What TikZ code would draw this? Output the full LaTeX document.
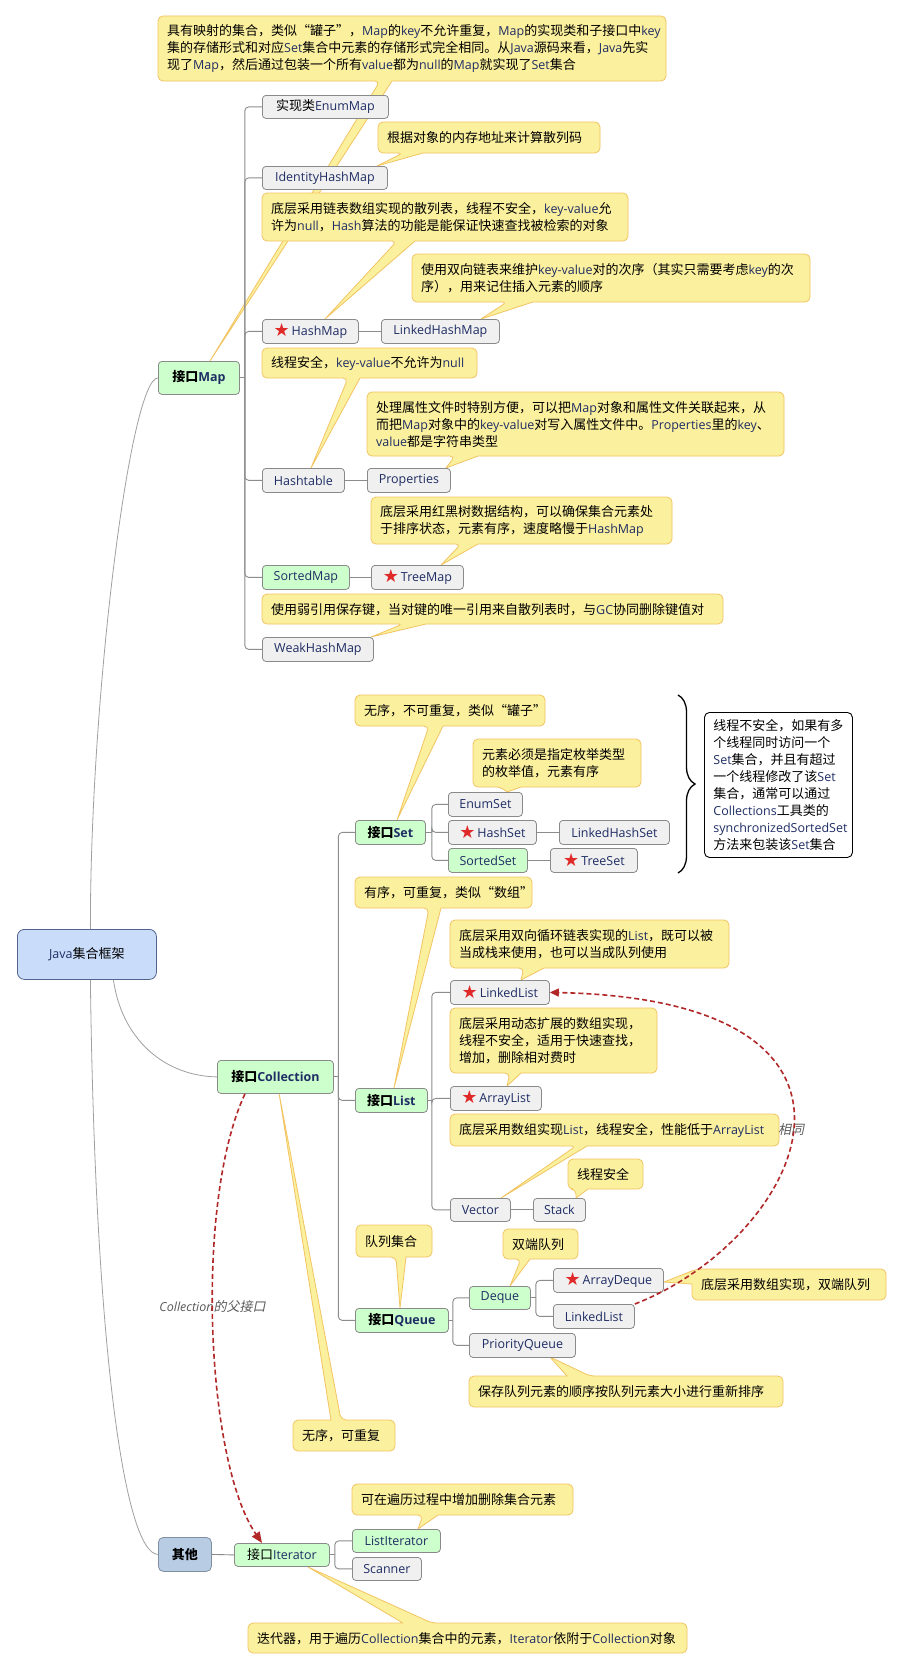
\documentclass[tikz,border=0pt]{standalone}
\usepackage{fontspec}
\setmainfont{Noto Sans CJK SC}
\newfontfamily\lat{Open Sans}[Scale=0.96]
\newfontfamily\dv{DejaVu Sans}
\newfontfamily\slcjk{Noto Sans CJK SC}[FakeSlant=0.2]
\usetikzlibrary{calc,arrows.meta,decorations.pathreplacing}
\definecolor{grayfill}{RGB}{240,240,240}
\definecolor{greenfill}{RGB}{204,255,204}
\definecolor{boxline}{RGB}{138,138,138}
\definecolor{rootfill}{RGB}{201,220,250}
\definecolor{rootline}{RGB}{80,100,140}
\definecolor{otherfill}{RGB}{184,204,228}
\definecolor{otherline}{RGB}{127,143,160}
\definecolor{notefill}{RGB}{251,240,157}
\definecolor{noteline}{RGB}{242,196,98}
\definecolor{connc}{RGB}{140,140,140}
\definecolor{rootc}{RGB}{160,160,160}
\definecolor{redd}{RGB}{178,40,40}
\definecolor{starred}{RGB}{224,42,42}
\definecolor{latin}{RGB}{31,45,100}
\definecolor{lblc}{RGB}{90,90,90}
\hyphenpenalty=10000
\exhyphenpenalty=10000
\setlength\parindent{0pt}
\newcommand\fs{\fontsize{13}{17}\selectfont}
\newcommand\EN[1]{{\lat\color{latin}#1}}
\newcommand\STAR{\raisebox{-1pt}{\dv\fontsize{18}{18}\selectfont\color{starred}★}\hspace{2pt}}
\newcommand\bx[7]{\node[#1, minimum width={(#5-#3)*1pt}, minimum height={(#6-#4)*1pt}] (#2) at (#3,#4) {#7};}
\newcommand\nt[7]{\pgfmathsetlengthmacro\tw{(#5-#3-18)*1pt}%
  \node[#1, text width=\tw, minimum height={(#6-#4)*1pt}] (#2) at (#3,#4) {#7};}
\newcommand\calB[8]{\path[callout] (#7,#8) -- (#6,#4) [rounded corners=5pt] -- (#3,#4) -- (#3,#2) -- (#1,#2) -- (#1,#4) -- (#5,#4) [sharp corners] -- cycle;}
\newcommand\calT[8]{\path[callout] (#7,#8) -- (#5,#2) [rounded corners=5pt] -- (#1,#2) -- (#1,#4) -- (#3,#4) -- (#3,#2) -- (#6,#2) [sharp corners] -- cycle;}
\begin{document}
\begin{tikzpicture}[x=1pt,y=-1pt,
  box/.style={draw=boxline, line width=0.8pt, rounded corners=3.5pt, inner sep=0pt, anchor=north west, font=\fs, text=black},
  gbox/.style={box, fill=grayfill},
  grbox/.style={box, fill=greenfill},
  rootbox/.style={box, fill=rootfill, draw=rootline, rounded corners=7pt},
  otherbox/.style={box, fill=otherfill, draw=otherline, rounded corners=5pt},
  note/.style={anchor=north west, inner xsep=9pt, inner ysep=0pt, align=left, font=\fs},
  setnote/.style={note, draw=black, line width=0.9pt, fill=white, rounded corners=5pt},
  callout/.style={fill=notefill, draw=noteline, line width=0.8pt, line join=round},
  conn/.style={draw=connc, line width=0.9pt, rounded corners=4pt},
  rootconn/.style={draw=rootc, line width=0.8pt},
  redarrow/.style={draw=redd, line width=1.6pt, dash pattern=on 5pt off 3pt},
  lbl/.style={font=\fs, text=lblc, inner sep=0pt}]
\useasboundingbox (0,0) rectangle (903,1670);
\fill[white] (0,0) rectangle (903,1670);

% callout shapes
\calB{158}{16}{666}{81}{380}{392}{210}{361}
\calB{378}{122}{600}{153}{403}{423}{377}{166}
\calB{262}{193}{628}{241}{397}{415}{325}{319}
\calB{412}{254}{810}{302}{507}{533}{481}{319}
\calB{262}{348}{477}{378}{348}{360}{311}{468}
\calB{367}{392}{784}{456}{455}{478}{446}{468}
\calB{371}{497}{672}{544}{461}{478}{441}{565}
\calB{262}{594}{723}{624}{403}{426}{371}{637}
\calB{355}{695}{545}{726}{429}{443}{397}{820}
\calB{473}{739}{641}{787}{501}{521}{507}{792}
\calB{355}{877}{532}{908}{429}{441}{394}{1088}
\calB{450}{920}{729}{968}{524}{544}{521}{980}
\calB{450}{1008}{657}{1073}{510}{521}{507}{1086}
\calB{450}{1114}{779}{1146}{576}{587}{501}{1198}
\calB{568}{1159}{643}{1189}{576}{588}{576}{1198}
\calB{356}{1225}{432}{1257}{396}{406}{400}{1308}
\calB{503}{1229}{578}{1259}{521}{530}{510}{1286}
\path[callout] (664,1282) -- (692,1284) [rounded corners=5pt] -- (692,1300) -- (886,1300) -- (886,1269) -- (697,1269) [sharp corners] -- cycle;
\calT{469}{1376}{783}{1407}{567}{590}{550}{1357}
\calT{293}{1420}{395}{1451}{331}{341}{279}{1093}
\calB{352}{1484}{573}{1515}{423}{438}{418}{1529}
\calT{248}{1623}{687}{1653}{403}{432}{308}{1567}

% note texts
\nt{note}{n1}{158}{16}{666}{81}{具有映射的集合，类似“罐子”，\EN{Map}的\EN{key}不允许重复，\EN{Map}的实现类和子接口中\EN{key}\\集的存储形式和对应\EN{Set}集合中元素的存储形式完全相同。从\EN{Java}源码来看，\EN{Java}先实\\现了\EN{Map}，然后通过包装一个所有\EN{value}都为\EN{null}的\EN{Map}就实现了\EN{Set}集合}
\nt{note}{n2}{378}{122}{600}{153}{根据对象的内存地址来计算散列码}
\nt{note}{n3}{262}{193}{628}{241}{底层采用链表数组实现的散列表，线程不安全，\EN{key-value}允\\许为\EN{null}，\EN{Hash}算法的功能是能保证快速查找被检索的对象}
\nt{note}{n4}{412}{254}{810}{302}{使用双向链表来维护\EN{key-value}对的次序（其实只需要考虑\EN{key}的次\\序），用来记住插入元素的顺序}
\nt{note}{n5}{262}{348}{477}{378}{线程安全，\EN{key-value}不允许为\EN{null}}
\nt{note}{n6}{367}{392}{784}{456}{处理属性文件时特别方便，可以把\EN{Map}对象和属性文件关联起来，从\\而把\EN{Map}对象中的\EN{key-value}对写入属性文件中。\EN{Properties}里的\EN{key}、\\\EN{value}都是字符串类型}
\nt{note}{n7}{371}{497}{672}{544}{底层采用红黑树数据结构，可以确保集合元素处\\于排序状态，元素有序，速度略慢于\EN{HashMap}}
\nt{note}{n8}{262}{594}{723}{624}{使用弱引用保存键，当对键的唯一引用来自散列表时，与\EN{GC}协同删除键值对}
\nt{note}{n9}{355}{695}{545}{726}{无序，不可重复，类似“罐子”}
\nt{note}{n10}{473}{739}{641}{787}{元素必须是指定枚举类型\\的枚举值，元素有序}
\nt{setnote}{n11}{704}{712}{852}{857}{线程不安全，如果有多\\个线程同时访问一个\\\EN{Set}集合，并且有超过\\一个线程修改了该\EN{Set}\\集合，通常可以通过\\\EN{Collections}工具类的\\\EN{synchronizedSortedSet}\\方法来包装该\EN{Set}集合}
\nt{note}{n12}{355}{877}{532}{908}{有序，可重复，类似“数组”}
\nt{note}{n13}{450}{920}{729}{968}{底层采用双向循环链表实现的\EN{List}，既可以被\\当成栈来使用，也可以当成队列使用}
\nt{note}{n14}{450}{1008}{657}{1073}{底层采用动态扩展的数组实现，\\线程不安全，适用于快速查找，\\增加，删除相对费时}
\nt{note}{n15}{450}{1114}{779}{1146}{底层采用数组实现\EN{List}，线程安全，性能低于\EN{ArrayList}}
\nt{note}{n16}{568}{1159}{643}{1189}{线程安全}
\nt{note}{n17}{356}{1225}{432}{1257}{队列集合}
\nt{note}{n18}{503}{1229}{578}{1259}{双端队列}
\nt{note}{n19}{692}{1269}{886}{1300}{底层采用数组实现，双端队列}
\nt{note}{n20}{469}{1376}{783}{1407}{保存队列元素的顺序按队列元素大小进行重新排序}
\nt{note}{n21}{293}{1420}{395}{1451}{无序，可重复}
\nt{note}{n22}{352}{1484}{573}{1515}{可在遍历过程中增加删除集合元素}
\nt{note}{n23}{248}{1623}{687}{1653}{迭代器，用于遍历\EN{Collection}集合中的元素，\EN{Iterator}依附于\EN{Collection}对象}

% brace
\draw[line width=1.3pt, decorate, decoration={brace, amplitude=17pt}] (678,695) -- (678,873);

% boxes
\bx{rootbox}{root}{17}{929}{156}{979}{\EN{Java}集合框架}
\bx{grbox,font=\fs\bfseries}{map}{158}{361}{239}{394}{接口\EN{Map}}
\bx{gbox}{enummap}{262}{95}{388}{118}{实现类\EN{EnumMap}}
\bx{gbox}{identity}{262}{166}{387}{189}{\EN{IdentityHashMap}}
\bx{gbox}{hashmap}{262}{319}{358}{343}{\STAR\EN{HashMap}}
\bx{gbox}{linkedhm}{381}{319}{499}{343}{\EN{LinkedHashMap}}
\bx{gbox}{hashtable}{262}{468}{344}{492}{\EN{Hashtable}}
\bx{gbox}{properties}{367}{468}{450}{492}{\EN{Properties}}
\bx{grbox}{sortedmap}{262}{565}{349}{589}{\EN{SortedMap}}
\bx{gbox}{treemap}{371}{565}{463}{589}{\STAR\EN{TreeMap}}
\bx{gbox}{weakhm}{262}{637}{373}{661}{\EN{WeakHashMap}}
\bx{grbox,font=\fs\bfseries}{coll}{217}{1060}{333}{1093}{接口\EN{Collection}}
\bx{grbox,font=\fs\bfseries}{set}{355}{820}{425}{844}{接口\EN{Set}}
\bx{gbox}{enumset}{448}{792}{522}{816}{\EN{EnumSet}}
\bx{gbox}{hashset}{448}{820}{536}{844}{\STAR\EN{HashSet}}
\bx{gbox}{linkedhs}{559}{820}{669}{844}{\EN{LinkedHashSet}}
\bx{grbox}{sortedset}{448}{848}{527}{872}{\EN{SortedSet}}
\bx{gbox}{treeset}{550}{848}{637}{872}{\STAR\EN{TreeSet}}
\bx{grbox,font=\fs\bfseries}{list}{355}{1088}{427}{1112}{接口\EN{List}}
\bx{gbox}{linkedlist}{450}{980}{549}{1004}{\STAR\EN{LinkedList}}
\bx{gbox}{arraylist}{450}{1086}{541}{1110}{\STAR\EN{ArrayList}}
\bx{gbox}{vector}{450}{1198}{510}{1221}{\EN{Vector}}
\bx{gbox}{stack}{533}{1198}{585}{1221}{\EN{Stack}}
\bx{grbox,font=\fs\bfseries}{queue}{355}{1308}{448}{1332}{接口\EN{Queue}}
\bx{grbox}{deque}{469}{1286}{530}{1309}{\EN{Deque}}
\bx{gbox}{arraydeque}{553}{1268}{663}{1292}{\STAR\EN{ArrayDeque}}
\bx{gbox}{linkedlist2}{553}{1304}{634}{1328}{\EN{LinkedList}}
\bx{gbox}{pq}{469}{1333}{575}{1357}{\EN{PriorityQueue}}
\bx{otherbox,font=\fs\bfseries}{other}{158}{1537}{211}{1571}{其他}
\bx{grbox}{iter}{234}{1543}{329}{1566}{接口\EN{Iterator}}
\bx{grbox}{listiter}{352}{1529}{440}{1552}{\EN{ListIterator}}
\bx{gbox}{scanner}{352}{1557}{421}{1580}{\EN{Scanner}}

% root connectors
\draw[rootconn] ($(root.north)+(3.5,0)$) .. controls (90,700) and (130,378) .. (map.west);
\draw[rootconn] ($(root.south)+(26.5,0)$) .. controls (122,1040) and (165,1076) .. (coll.west);
\draw[rootconn] ($(root.south)+(3.5,0)$) .. controls (95,1350) and (125,1554) .. (other.west);

% tree connectors
\coordinate (mj) at ($(map.east)+(5,0)$);
\draw[conn] (map.east) -- (mj);
\foreach \c in {enummap,identity,hashmap,hashtable,sortedmap,weakhm} \draw[conn] (mj) |- (\c.west);
\draw[conn] (hashmap.east) -- (linkedhm.west);
\draw[conn] (hashtable.east) -- (properties.west);
\draw[conn] (sortedmap.east) -- (treemap.west);

\coordinate (cj) at ($(coll.east)+(4.5,0)$);
\draw[conn] (coll.east) -- (cj);
\foreach \c in {set,list,queue} \draw[conn] (cj) |- (\c.west);

\coordinate (sj) at ($(set.east)+(6,0)$);
\draw[conn] (set.east) -- (sj);
\foreach \c in {enumset,hashset,sortedset} \draw[conn] (sj) |- (\c.west);
\draw[conn] (hashset.east) -- (linkedhs.west);
\draw[conn] (sortedset.east) -- (treeset.west);

\coordinate (lj) at ($(list.east)+(4,0)$);
\draw[conn] (list.east) -- (lj);
\foreach \c in {linkedlist,arraylist,vector} \draw[conn] (lj) |- (\c.west);
\draw[conn] (vector.east) -- (stack.west);

\coordinate (qj) at ($(queue.east)+(4,0)$);
\draw[conn] (queue.east) -- (qj);
\foreach \c in {deque,pq} \draw[conn] (qj) |- (\c.west);
\coordinate (dj) at ($(deque.east)+(5,0)$);
\draw[conn] (deque.east) -- (dj);
\foreach \c in {arraydeque,linkedlist2} \draw[conn] (dj) |- (\c.west);

\draw[conn] (other.east) -- (iter.west);
\coordinate (ij) at ($(iter.east)+(5,0)$);
\draw[conn] (iter.east) -- (ij);
\foreach \c in {listiter,scanner} \draw[conn] (ij) |- (\c.west);

% labels
\node[lbl] (same) at (791,1130) {\slcjk 相同};
\node[lbl] (parentlbl) at (212.5,1307) {{\lat\itshape Collection}\slcjk 的父接口};

% red dashed relations
\draw[redarrow, -{Triangle[length=9pt,width=8pt]}] (linkedlist2.north east) .. controls (800,1240) and (920,1000) .. (linkedlist.east);
\draw[redarrow, -{Triangle[length=11pt,width=9pt]}] ($(coll.south west)+(28,0)$) .. controls (195,1200) and (205,1460) .. ($(iter.north west)+(28,0)$);
\end{tikzpicture}
\end{document}
